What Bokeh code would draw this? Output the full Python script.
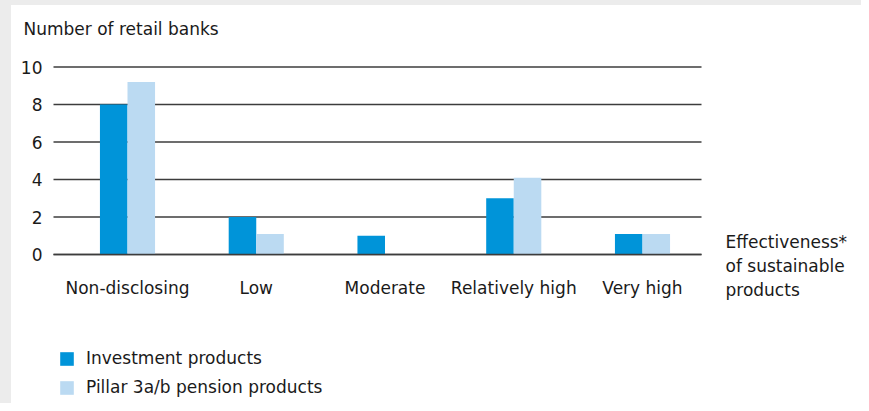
from bokeh.plotting import figure
from bokeh.models import (Range1d, FixedTicker, Legend, LegendItem, Label,
                          ColumnDataSource)
from bokeh.transform import dodge
from bokeh.embed import file_html
from bokeh.resources import INLINE

categories = ["Non-disclosing", "Low", "Moderate", "Relatively high", "Very high"]
investment = [8.0, 2.0, 1.0, 3.0, 1.1]
pension = [9.2, 1.1, 0.0, 4.1, 1.1]
y_ticks = [0, 2, 4, 6, 8, 10]
series_names = ["Investment products", "Pillar 3a/b pension products"]
y_title = "Number of retail banks"
x_title_lines = ["Effectiveness*", "of sustainable", "products"]

FONT = "DejaVu Sans"
FS = "17px"
TXT = "#1a1a1a"
C_INV = "#0094d9"
C_PEN = "#bbdaf2"
GRID = "#3c3c3c"

W, H = 861, 403
# pixel layout of the plotting area (left/right of gridlines, y of 0 and 10)
PX_X0, PX_STEP, PX_GRID_L, PX_GRID_R = 127.0, 128.75, 53.0, 701.0
PX_Y0, PX_UNIT = 254.0, 18.75

def dx(px):
    return (px - PX_X0) / PX_STEP

def dy(py):
    return (PX_Y0 - py) / PX_UNIT

xs = list(range(len(categories)))
src = ColumnDataSource(dict(x=xs, inv=investment, pen=pension))

p = figure(width=W, height=H,
           x_range=Range1d(dx(0), dx(W)), y_range=Range1d(dy(H), dy(0)),
           output_backend="svg", toolbar_location=None,
           min_border=0, min_border_left=0, min_border_right=0,
           min_border_top=0, min_border_bottom=0)
p.outline_line_color = None
p.background_fill_color = None
p.border_fill_color = None
p.styles = {"background": "linear-gradient(to right, #ececec 11px, rgba(0,0,0,0) 11px), "
                          "linear-gradient(to bottom, #ececec 5px, #ffffff 5px)"}
p.xgrid.visible = False
p.ygrid.visible = False

gx0, gx1 = dx(PX_GRID_L), dx(PX_GRID_R)
# horizontal grid lines at the y ticks
p.segment(x0=[gx0] * len(y_ticks), x1=[gx1] * len(y_ticks), y0=y_ticks, y1=y_ticks,
          line_color=GRID, line_width=1.5)

bw = 0.214
r1 = p.vbar(x=dodge("x", -bw / 2), top="inv", width=bw, source=src,
            fill_color=C_INV, line_color=None)
r2 = p.vbar(x=dodge("x", bw / 2), top="pen", width=bw, source=src,
            fill_color=C_PEN, line_color=None)
# baseline over the bars
p.segment(x0=[gx0], x1=[gx1], y0=[y_ticks[0]], y1=[y_ticks[0]],
          line_color=GRID, line_width=1.5)

for ax in (p.xaxis[0], p.yaxis[0]):
    ax.axis_line_color = None
    ax.major_tick_line_color = None
    ax.minor_tick_line_color = None
    ax.major_tick_out = 0
    ax.major_tick_in = 0
    ax.major_label_text_font = FONT
    ax.major_label_text_font_size = FS
    ax.major_label_text_color = TXT

p.yaxis.ticker = FixedTicker(ticks=y_ticks)
p.yaxis.fixed_location = gx0
p.yaxis.major_label_standoff = 11
p.xaxis.ticker = FixedTicker(ticks=xs)
p.xaxis.fixed_location = y_ticks[0]
p.xaxis.major_label_overrides = {i: c for i, c in zip(xs, categories)}
p.xaxis.major_label_standoff = 23

p.add_layout(Label(x=dx(23), y=dy(28), text=y_title,
                   text_font=FONT, text_font_size=FS, text_color=TXT,
                   text_align="left", text_baseline="middle"))

for py, line in zip([241, 265, 289], x_title_lines):
    p.add_layout(Label(x=dx(725), y=dy(py), text=line,
                       text_font=FONT, text_font_size=FS, text_color=TXT,
                       text_align="left", text_baseline="middle"))

legend = Legend(items=[LegendItem(label=series_names[0], renderers=[r1]),
                       LegendItem(label=series_names[1], renderers=[r2])],
                location=(58, 6), orientation="vertical",
                padding=0, margin=0, spacing=9,
                glyph_width=17, glyph_height=17, label_height=20,
                label_standoff=11, border_line_color=None,
                background_fill_alpha=0,
                label_text_font=FONT, label_text_font_size=FS,
                label_text_color=TXT)
p.add_layout(legend)

open("out.html", "w").write(file_html(p, INLINE))
